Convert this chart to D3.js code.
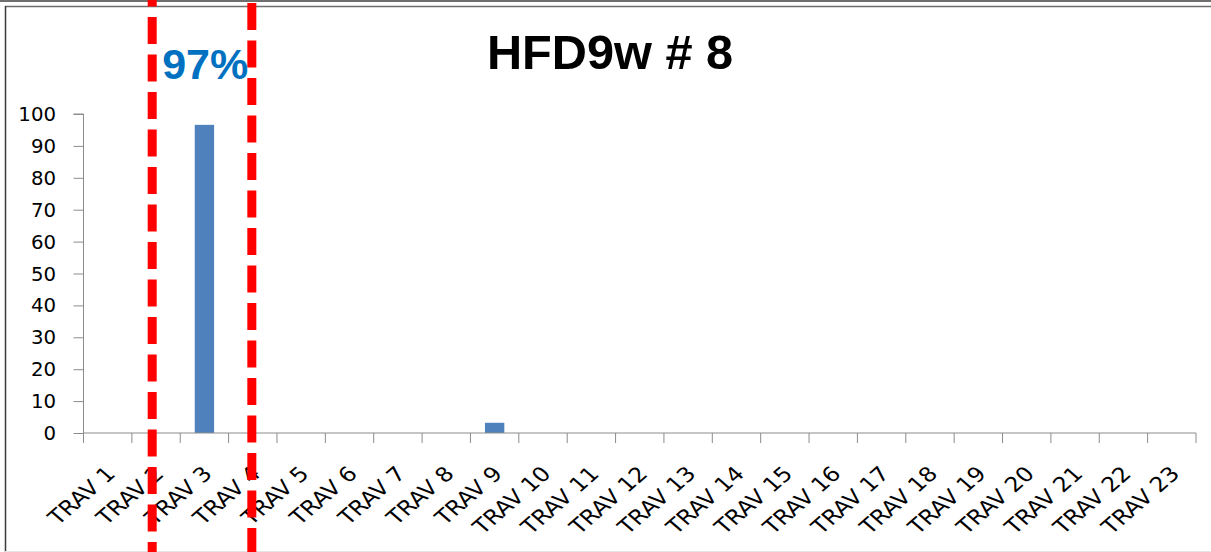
<!DOCTYPE html>
<html>
<head>
<meta charset="utf-8">
<script src="https://cdn.jsdelivr.net/npm/d3@7"></script>
<style>
  html, body { margin: 0; padding: 0; background: #fff; }
  svg { display: block; }
</style>
</head>
<body>
<svg id="chart" width="1211" height="552"></svg>
<script>
const categories = ["TRAV 1","TRAV 2","TRAV 3","TRAV 4","TRAV 5","TRAV 6","TRAV 7","TRAV 8",
  "TRAV 9","TRAV 10","TRAV 11","TRAV 12","TRAV 13","TRAV 14","TRAV 15","TRAV 16",
  "TRAV 17","TRAV 18","TRAV 19","TRAV 20","TRAV 21","TRAV 22","TRAV 23"];
const values = [0, 0, 96.6, 0, 0, 0, 0, 0, 3.2, 0, 0, 0, 0, 0, 0, 0, 0, 0, 0, 0, 0, 0, 0];
const yTicks = [0, 10, 20, 30, 40, 50, 60, 70, 80, 90, 100];
const title = "HFD9w # 8";
const highlightLabel = "97%";
const highlightCategory = "TRAV 3";
// dashed markers: [category, fraction of band]
const markers = [["TRAV 2", 0.42], ["TRAV 4", 0.48]];

const W = 1211, H = 552;
const svg = d3.select("#chart");
const margin = { left: 83.5, right: 15, top: 114, bottom: 119 };
const x = d3.scaleBand().domain(categories).range([margin.left, W - margin.right]).padding(0);
const y = d3.scaleLinear().domain([0, 100]).range([H - margin.bottom, margin.top]);
const bw = x.bandwidth();
const axisColor = "#8c8c8c";
const labelFont = "DejaVu Sans, Verdana, sans-serif";

// frame
svg.append("line").attr("x1", 0).attr("x2", W).attr("y1", 1).attr("y2", 1)
  .attr("stroke", "#6e6e6e").attr("stroke-width", 2);
svg.append("line").attr("x1", 5).attr("x2", W).attr("y1", 6.5).attr("y2", 6.5)
  .attr("stroke", "#6e6e6e").attr("stroke-width", 1.5);
svg.append("line").attr("x1", 5.5).attr("x2", 5.5).attr("y1", 6).attr("y2", H)
  .attr("stroke", "#3a3a3a").attr("stroke-width", 1.5);
svg.append("line").attr("x1", 5).attr("x2", W).attr("y1", 551.5).attr("y2", 551.5)
  .attr("stroke", "#e4e4e4").attr("stroke-width", 1);

// bars
svg.append("g").selectAll("rect").data(categories).join("rect")
  .attr("x", (d) => x(d) + bw * 0.3)
  .attr("width", bw * 0.4)
  .attr("y", (d, i) => y(values[i]))
  .attr("height", (d, i) => y(0) - y(values[i]))
  .attr("fill", "#4F81BD");

// y axis
const yAxis = d3.axisLeft(y).tickValues(yTicks).tickSize(10).tickFormat("");
const gy = svg.append("g").attr("transform", `translate(${margin.left},0)`).call(yAxis);
gy.select(".domain").attr("stroke", axisColor).attr("d", `M-10,${y(100)}H0V${y(0)}`);
gy.selectAll(".tick line").attr("stroke", axisColor);
svg.append("g").selectAll("text").data(yTicks).join("text")
  .attr("transform", (d) => `translate(56,${y(d) + 7}) scale(1.05,1)`)
  .attr("text-anchor", "end")
  .attr("font-family", labelFont)
  .attr("font-size", 18.8)
  .attr("fill", "#000")
  .text((d) => d);

// x axis
const xAxis = d3.axisBottom(x).tickSize(0).tickFormat("");
const gx = svg.append("g").attr("transform", `translate(0,${y(0)})`).call(xAxis);
gx.select(".domain").attr("stroke", axisColor).attr("d", `M${margin.left},0H${W - margin.right}`);
const boundaries = categories.map((d) => x(d)).concat([x(categories[categories.length - 1]) + bw]);
gx.selectAll("line.bnd").data(boundaries).join("line").attr("class", "bnd")
  .attr("x1", (d) => d).attr("x2", (d) => d).attr("y1", 0).attr("y2", 10)
  .attr("stroke", axisColor);
svg.append("g").selectAll("text").data(categories).join("text")
  .attr("transform", (d) => `translate(${x(d) + bw / 2 + 9},${y(0) + 42}) scale(1.15,1) rotate(-45)`)
  .attr("text-anchor", "end")
  .attr("font-family", labelFont)
  .attr("font-size", 20.5)
  .attr("fill", "#000")
  .text((d) => d);

// title
svg.append("text").attr("x", 610).attr("y", 69)
  .attr("text-anchor", "middle")
  .attr("font-family", "Liberation Sans, Arial, sans-serif")
  .attr("font-weight", "bold").attr("font-size", 47.5).attr("fill", "#000")
  .attr("transform", "translate(610,0) scale(1.025,1) translate(-610,0)")
  .text(title);

// red dashed markers
svg.append("g").selectAll("line").data(markers).join("line")
  .attr("x1", (d) => x(d[0]) + bw * d[1]).attr("x2", (d) => x(d[0]) + bw * d[1])
  .attr("y1", 0).attr("y2", H)
  .attr("stroke", "#FF0000").attr("stroke-width", 9)
  .attr("stroke-dasharray", "27 10.5")
  .attr("stroke-dashoffset", (d, i) => i === 0 ? 20.5 : 34.5);

// highlight label
svg.append("text").attr("x", x(highlightCategory) + bw / 2 + 0.8).attr("y", 79)
  .attr("text-anchor", "middle")
  .attr("font-family", "Liberation Sans, Arial, sans-serif")
  .attr("font-weight", "bold").attr("font-size", 43).attr("fill", "#0070C0")
  .text(highlightLabel);
</script>
</body>
</html>
